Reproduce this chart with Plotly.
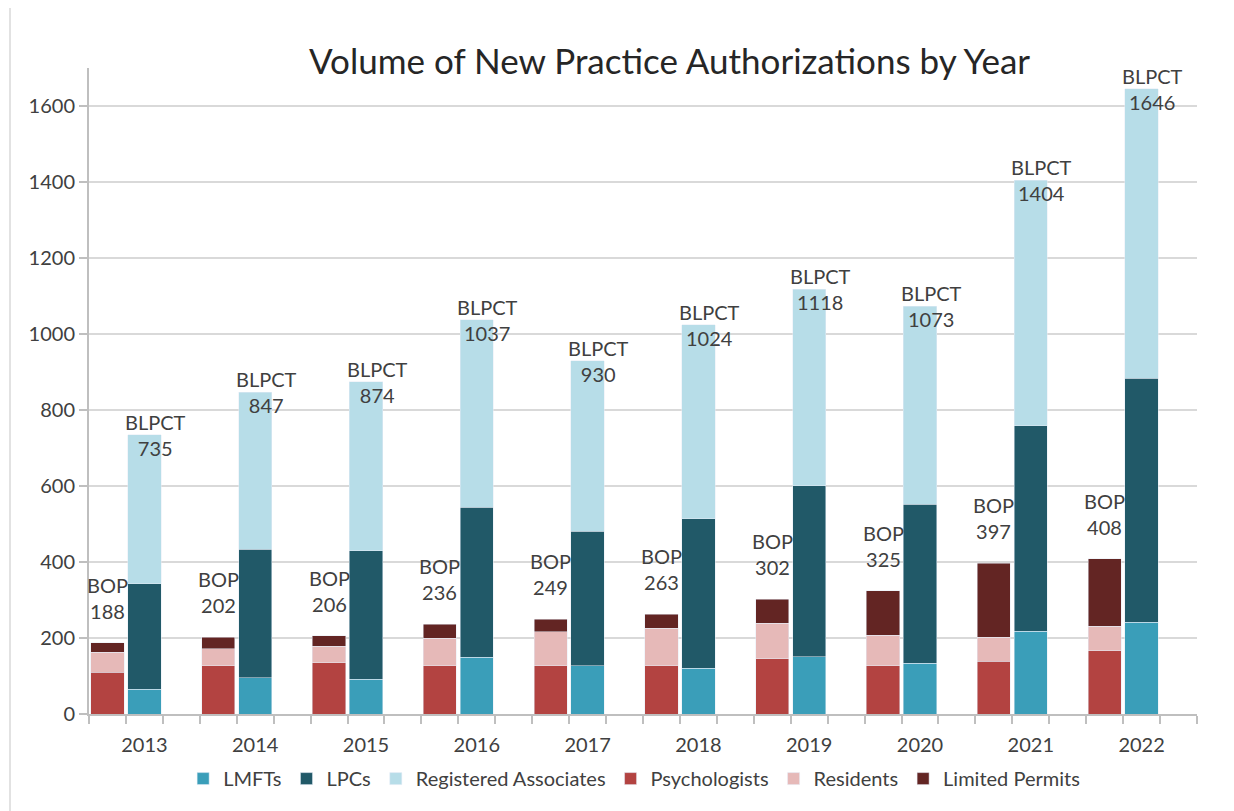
import plotly.graph_objects as go

years = ["2013", "2014", "2015", "2016", "2017", "2018", "2019", "2020", "2021", "2022"]

# BLPCT components
lmfts = [65, 95, 91, 149, 127, 121, 151, 133, 218, 241]
lpcs = [278, 338, 339, 395, 354, 393, 450, 419, 540, 643]
reg_assoc = [392, 414, 444, 493, 449, 510, 517, 521, 646, 762]
blpct_totals = [735, 847, 874, 1037, 930, 1024, 1118, 1073, 1404, 1646]

# BOP components
psychologists = [110, 127, 135, 127, 127, 127, 145, 127, 139, 166]
residents = [52, 45, 43, 72, 90, 99, 94, 80, 63, 65]
limited_permits = [26, 30, 28, 37, 32, 37, 63, 118, 195, 177]
bop_totals = [188, 202, 206, 236, 249, 263, 302, 325, 397, 408]

FONT = "Lato"
TXT = "#404040"
FS = 20

# slot positions: each year has 3 slots (BOP, BLPCT, blank)
x_bop = [3 * i for i in range(len(years))]
x_blp = [3 * i + 1 for i in range(len(years))]

fig = go.Figure()
W = 0.9
fig.add_trace(go.Bar(x=x_blp, y=lmfts, name="LMFTs", marker_color="#3A9EB9", width=W))
fig.add_trace(go.Bar(x=x_blp, y=lpcs, name="LPCs", marker_color="#215968", width=W))
fig.add_trace(go.Bar(x=x_blp, y=reg_assoc, name="Registered Associates", marker_color="#B7DDE8", width=W))
fig.add_trace(go.Bar(x=x_bop, y=psychologists, name="Psychologists", marker_color="#B34341", width=W))
fig.add_trace(go.Bar(x=x_bop, y=residents, name="Residents", marker_color="#E6B9B8", width=W))
fig.add_trace(go.Bar(x=x_bop, y=limited_permits, name="Limited Permits", marker_color="#632523", width=W))

for i in range(len(years)):
    fig.add_annotation(x=x_bop[i], y=bop_totals[i], text=f"BOP<br>{bop_totals[i]}",
                       showarrow=False, yanchor="bottom", yshift=18,
                       font=dict(family=FONT, size=FS, color=TXT))
    fig.add_annotation(x=x_blp[i], y=blpct_totals[i], text=f"BLPCT<br>{blpct_totals[i]}",
                       showarrow=False, yanchor="middle", xshift=11,
                       font=dict(family=FONT, size=FS, color=TXT))

# left border line of the chart area
fig.add_shape(type="line", xref="paper", yref="paper", x0=-0.0713, x1=-0.0713,
              y0=-0.15, y1=1.105, line=dict(color="#d9d9d9", width=1.5))

fig.update_layout(
    width=1226, height=803,
    margin=dict(l=81, r=37, t=60, b=97),
    paper_bgcolor="white", plot_bgcolor="white",
    barmode="stack",
    title=dict(text="Volume of New Practice Authorizations by Year",
               font=dict(family=FONT, size=35, color="#262626"),
               x=0.524, xanchor="center", xref="paper",
               y=1 - 54 / 803, yanchor="middle", yref="container"),
    font=dict(family=FONT, size=FS, color=TXT),
    legend=dict(orientation="h", x=0.492, xanchor="center", y=-0.1, yanchor="middle",
                traceorder="normal", font=dict(family=FONT, size=FS, color=TXT),
                itemwidth=30),
    showlegend=True,
)
fig.update_xaxes(
    range=[-0.5, 29.5],
    tickmode="array", tickvals=x_blp, ticktext=years,
    ticks="outside", ticklen=12, tickcolor="rgba(0,0,0,0)",
    minor=dict(tickmode="linear", tick0=-0.5, dtick=1, ticks="outside", ticklen=8,
               tickcolor="#bfbfbf", tickwidth=2, showgrid=False),
    showline=True, linecolor="#bfbfbf", linewidth=2,
    showgrid=False, zeroline=False,
    tickfont=dict(family=FONT, size=FS, color=TXT),
)
fig.update_yaxes(
    range=[0, 1700], dtick=200, tick0=0,
    showgrid=True, gridcolor="#d9d9d9", gridwidth=2,
    showline=True, linecolor="#bfbfbf", linewidth=2,
    ticks="outside", ticklen=8, tickcolor="#bfbfbf", tickwidth=2,
    zeroline=False,
    tickfont=dict(family=FONT, size=FS, color=TXT),
)

fig.write_html("out.html")
